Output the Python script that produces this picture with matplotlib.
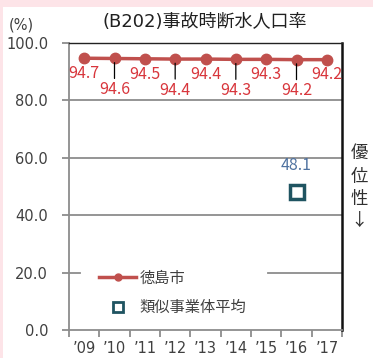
import matplotlib
matplotlib.use("Agg")
import matplotlib.pyplot as plt
from matplotlib.patches import Rectangle
from matplotlib.lines import Line2D

plt.rcParams['font.family'] = ['DejaVu Sans', 'Noto Sans CJK JP']

years = ["’09", "’10", "’11", "’12", "’13", "’14", "’15", "’16", "’17"]
tokushima = [94.7, 94.6, 94.5, 94.4, 94.4, 94.3, 94.3, 94.2, 94.2]
similar_idx = 7
similar_avg = 48.1
yticks = [0, 20, 40, 60, 80, 100]

W, H = 373, 358
fig = plt.figure(figsize=(W / 100, H / 100), dpi=100)
fig.patch.set_facecolor('#fde4e8')
fig.add_artist(Rectangle((3 / W, 0), 1, (H - 7) / H, transform=fig.transFigure,
                         facecolor='white', edgecolor='none', zorder=0))

ax = fig.add_axes([69 / W, 1 - 330 / H, (342 - 69) / W, (330 - 43) / H])
ax.set_facecolor('none')
x = list(range(len(years)))

ax.set_xlim(-0.5, len(years) - 0.5)
ax.set_ylim(0, 100)

# grid (the 20 line is interrupted by the legend area)
for v in yticks[1:-1]:
    if v == 20:
        ax.axhline(v, xmin=0, xmax=0.04, color='#8c8c8c', lw=1.3, zorder=1)
        ax.axhline(v, xmin=0.728, xmax=1, color='#8c8c8c', lw=1.3, zorder=1)
    else:
        ax.axhline(v, color='#8c8c8c', lw=1.3, zorder=1)

line_col = '#c0504d'
ax.plot(x, tokushima, color=line_col, lw=2.5, marker='o', ms=7.5, zorder=4,
        solid_capstyle='butt')

lab_col = '#d8363c'
lab_font = ['Noto Sans CJK JP']
for i, v in enumerate(tokushima):
    if i % 2 == 0:
        ax.annotate(f"{v:.1f}", (i, v), xytext=(0, -11), textcoords='offset points',
                    ha='center', va='center', color=lab_col, fontsize=11.5,
                    family=lab_font, zorder=5)
    else:
        ax.annotate(f"{v:.1f}", (i, v), xytext=(0, -22.5), textcoords='offset points',
                    ha='center', va='center', color=lab_col, fontsize=11.5,
                    family=lab_font, zorder=5,
                    arrowprops=dict(arrowstyle='-', color='black', lw=0.9,
                                    shrinkA=0, shrinkB=3))

sq_col = '#1f5461'
ax.plot([similar_idx], [similar_avg], ls='none', marker='s', ms=9.5, mfc='white',
        mec=sq_col, mew=2.5, zorder=4)
ax.annotate(f"{similar_avg:.1f}", (similar_idx, similar_avg), xytext=(0, 19),
            textcoords='offset points', ha='center', va='center',
            color='#4f72a0', fontsize=11.5, family=lab_font)

# spines
for s in ['left', 'bottom']:
    ax.spines[s].set_color('#8c8c8c')
    ax.spines[s].set_linewidth(1.3)
ax.spines['top'].set_color('#222222')
ax.spines['top'].set_linewidth(1.0)
ax.spines['right'].set_color('#111111')
ax.spines['right'].set_linewidth(1.8)

ax.set_yticks(yticks)
ax.set_yticklabels([f"{v:.1f}" for v in yticks], fontsize=10.5, color='#404040')
ax.tick_params(axis='y', direction='out', length=5, width=1.3, color='#8c8c8c', pad=10)

ax.set_xticks(x)
ax.set_xticklabels(years, fontsize=10.5, color='#404040')
ax.set_xticks([i - 0.5 for i in range(len(years) + 1)], minor=True)
ax.tick_params(axis='x', which='major', length=0, pad=8)
ax.tick_params(axis='x', which='minor', direction='out', length=5, width=1.3, color='#8c8c8c')

# legend
h1 = Line2D([], [], color=line_col, lw=2.5, marker='o', ms=5)
h2 = Line2D([], [], ls='none', marker='s', ms=6.5, mfc='white', mec=sq_col, mew=2)
leg = ax.legend([h1, h2], ["徳島市", "類似事業体平均"], loc='lower left',
                bbox_to_anchor=(0.072, 0.012), frameon=False,
                prop={'family': ['Noto Sans CJK JP'], 'size': 11},
                handlelength=2.4, handletextpad=0.25,
                labelspacing=0.8, borderpad=0.2, labelcolor='#404040')
leg.set_zorder(3)

fig.text(205 / W, 1 - 22 / H, "(B202)事故時断水人口率", ha='center', va='center',
         fontsize=13, color='#202020')
fig.text(21 / W, 1 - 25 / H, "(%)", ha='center', va='center', fontsize=10.5, color='#404040')
for ch, yy in zip("優位性↓", [153, 177, 199, 221]):
    fig.text(359 / W, 1 - yy / H, ch, ha='center', va='center', fontsize=12.5,
             color='#303030', family=['Noto Sans CJK JP', 'DejaVu Sans'])

fig.savefig("out.png", dpi=100, facecolor=fig.get_facecolor())
